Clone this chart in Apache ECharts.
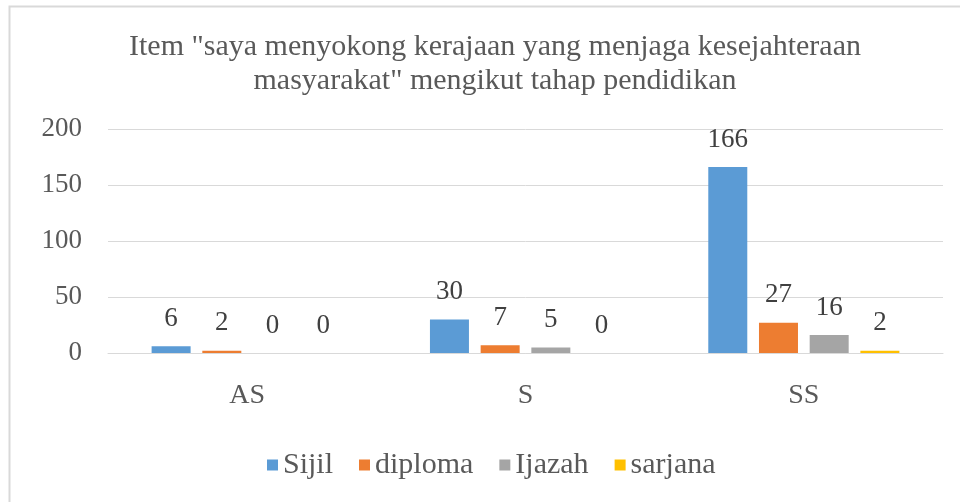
<!DOCTYPE html>
<html>
<head>
    <meta charset="utf-8">
    <style>
        html, body {
            height: 100%;
        }

        * {
            margin: 0;
            padding: 0;
        }

        #container {
            width: 960px;
            height: 502px;
            background: #fff;
        }
    </style>
</head>
<body>
<div id="container"></div>
<script type="text/javascript" src="https://cdn.jsdelivr.net/npm/echarts/dist/echarts.min.js"></script>
<script type="text/javascript">
    // data
    let categories = ['AS', 'S', 'SS'];
    let seriesNames = ['Sijil', 'diploma', 'Ijazah', 'sarjana'];
    let sijil = [6, 30, 166];
    let diploma = [2, 7, 27];
    let ijazah = [0, 5, 16];
    let sarjana = [0, 0, 2];
    let colors = ['#5B9BD5', '#ED7D31', '#A5A5A5', '#FFC000'];
    let titleText = 'Item "saya menyokong kerajaan yang menjaga kesejahteraan\nmasyarakat" mengikut tahap pendidikan';

    let serif = 'Liberation Serif';
    let dom = document.getElementById("container");
    let myChart = echarts.init(dom);

    function makeSeries(name, data, color) {
        return {
            name: name,
            type: 'bar',
            data: data,
            barWidth: 39,
            barGap: '30%',
            itemStyle: {color: color},
            label: {
                show: true,
                position: 'top',
                distance: 14,
                color: '#404040',
                fontFamily: serif,
                fontSize: 27
            }
        };
    }

    let allData = [sijil, diploma, ijazah, sarjana];

    let option = {
        animation: false,
        textStyle: {fontFamily: serif},
        title: {
            text: titleText,
            left: 495,
            top: 30,
            padding: 0,
            textAlign: 'center',
            textStyle: {
                fontFamily: serif,
                fontWeight: 'normal',
                fontSize: 30,
                lineHeight: 34,
                color: '#595959'
            }
        },
        legend: {
            data: seriesNames,
            left: 267,
            top: 450,
            padding: 0,
            icon: 'rect',
            itemWidth: 11,
            itemHeight: 11,
            itemGap: 26,
            textStyle: {
                fontFamily: serif,
                fontSize: 30,
                color: '#595959'
            }
        },
        grid: {
            left: 108,
            right: 17,
            top: 129,
            bottom: 149,
            containLabel: false
        },
        xAxis: {
            type: 'category',
            data: categories,
            axisTick: {show: false},
            axisLine: {lineStyle: {color: '#d9d9d9'}},
            axisLabel: {
                margin: 29,
                color: '#595959',
                fontFamily: serif,
                fontSize: 28
            }
        },
        yAxis: {
            type: 'value',
            min: 0,
            max: 200,
            interval: 50,
            axisLine: {show: false},
            axisTick: {show: false},
            splitLine: {lineStyle: {color: '#d9d9d9'}},
            axisLabel: {
                margin: 26,
                color: '#595959',
                fontFamily: serif,
                fontSize: 27
            }
        },
        graphic: [{
            type: 'rect',
            shape: {x: 9.5, y: 6.5, width: 1000, height: 600},
            style: {fill: 'none', stroke: '#d9d9d9', lineWidth: 2},
            silent: true
        }],
        series: seriesNames.map(function (n, i) {
            return makeSeries(n, allData[i], colors[i]);
        })
    };

    myChart.setOption(option, true);
</script>
</body>
</html>
